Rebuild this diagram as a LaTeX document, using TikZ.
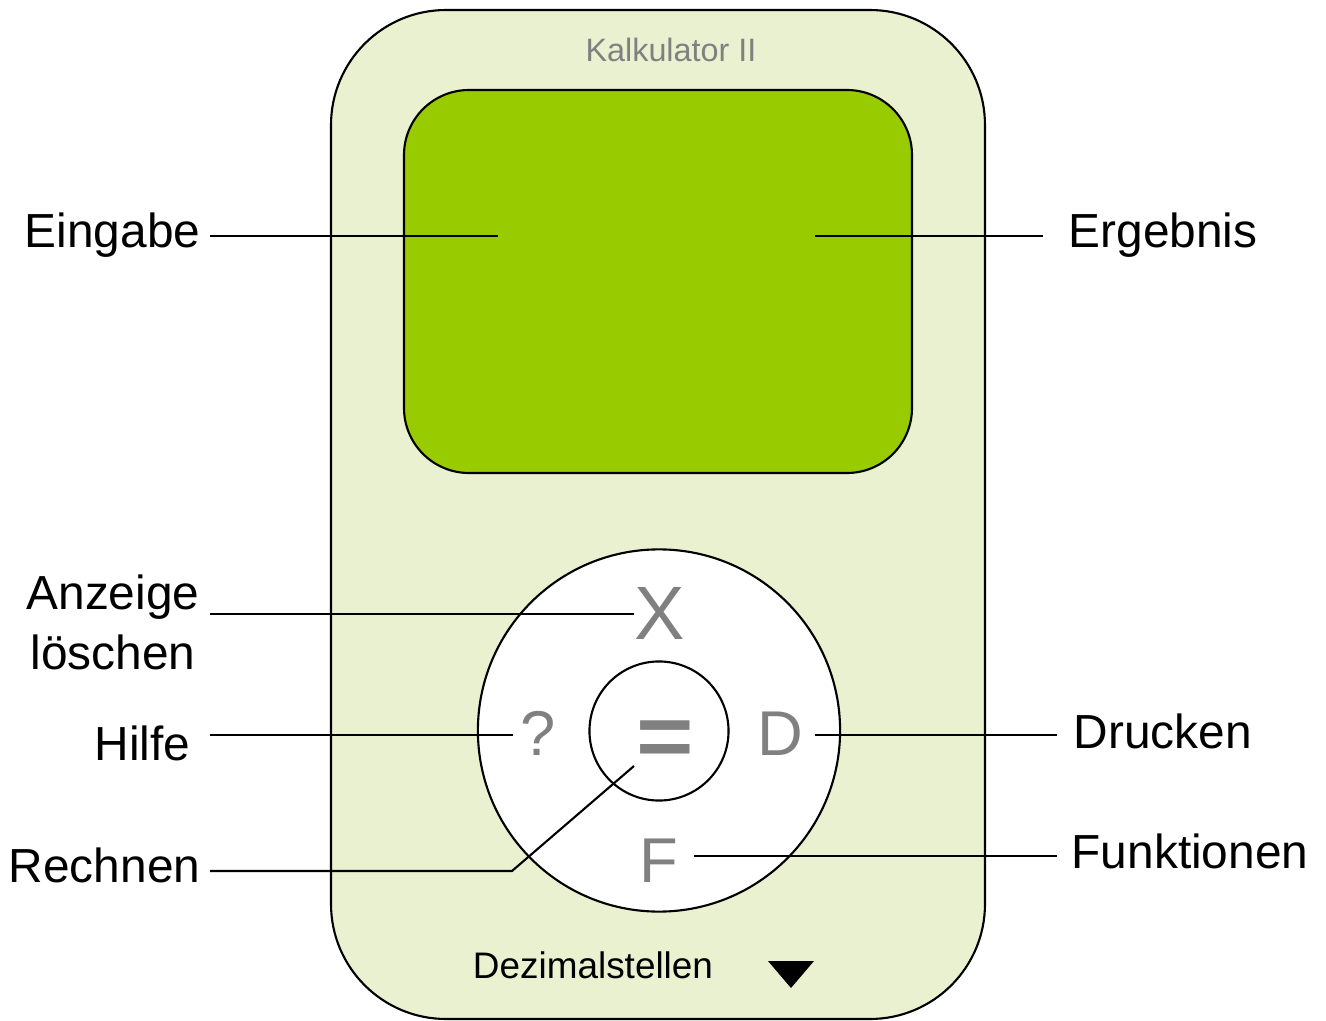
\documentclass[tikz,border=0pt]{standalone}
\usepackage{fontspec}
\setmainfont{Liberation Sans}
\definecolor{bodyfill}{HTML}{EAF1D0}
\definecolor{screenfill}{HTML}{99CC00}
\definecolor{btngray}{HTML}{808080}
\begin{document}
\begin{tikzpicture}[x=0.01cm,y=-0.01cm,
  outline/.style={draw=black,line width=0.6pt},
  conn/.style={draw=black,line width=0.6pt},
  lbl/.style={inner sep=0pt,font=\fontsize{13.6pt}{16.8pt}\selectfont},
  btn/.style={inner sep=0pt,text=btngray,font=\fontsize{18pt}{18pt}\selectfont},
]
\useasboundingbox (0,0) rectangle (1326,1021);
% body
\draw[outline,fill=bodyfill,rounded corners=1.15cm] (331,10) rectangle (985,1019);
\node[anchor=base,inner sep=0pt,text=btngray,font=\fontsize{9.2pt}{11pt}\selectfont] (title) at (671,61) {Kalkulator II};
% screen
\draw[outline,fill=screenfill,rounded corners=0.65cm] (404,90) rectangle (912,473);
% wheel
\node[outline,fill=white,circle,minimum size=3.62cm,inner sep=0pt] (wheel) at (659,730.5) {};
\node[outline,fill=white,circle,minimum size=1.39cm,inner sep=0pt] (center) at (659,731) {};
% button letters
\node[btn,anchor=base,font=\fontsize{21.5pt}{21.5pt}\selectfont] (xbtn) at (660,639) {X};
\node[btn,anchor=base] (qbtn) at (538,755) {?};
\node[btn,anchor=base] (dbtn) at (780,755) {D};
\node[btn,anchor=base] (fbtn) at (659,882) {F};
\node[btn,anchor=base,font=\fontsize{25pt}{25pt}\selectfont\bfseries] (eqbtn) at (665,766) {\scalebox{1.12}[1]{=}};
% bottom
\node[anchor=base,inner sep=0pt,font=\fontsize{10.5pt}{12pt}\selectfont] (dez) at (593,978) {Dezimalstellen};
\fill[black] (768,961) -- (814,961) -- (791,988) -- cycle;
% labels
\node[lbl,anchor=base east] (eing) at (201,248) {Eingabe};
\node[lbl,anchor=base west] (erg) at (1068,248) {Ergebnis};
\node[lbl,anchor=base,align=center] (anz) at (113,669) {Anzeige\\löschen};
\node[lbl,anchor=base east] (hilfe) at (191,760) {Hilfe};
\node[lbl,anchor=base east] (rech) at (201,882) {Rechnen};
\node[lbl,anchor=base west] (druck) at (1073,748) {Drucken};
\node[lbl,anchor=base west] (funk) at (1071,868) {Funktionen};
% connector tips
\coordinate (eingT) at (498,236);
\coordinate (ergT) at (815,236);
\coordinate (anzT) at (634,614);
\coordinate (hilfeT) at (513,735);
\coordinate (rechB) at (512,871);
\coordinate (rechT) at (634,766);
\coordinate (druckT) at (815,735);
\coordinate (funkT) at (694,856);
% connectors
\draw[conn] (210,236) -- (eingT);
\draw[conn] (ergT) -- (1043,236);
\draw[conn] (210,614) -- (anzT);
\draw[conn] (210,735) -- (hilfeT);
\draw[conn] (210,871) -- (rechB) -- (rechT);
\draw[conn] (druckT) -- (1057,735);
\draw[conn] (funkT) -- (1057,856);
\end{tikzpicture}
\end{document}
